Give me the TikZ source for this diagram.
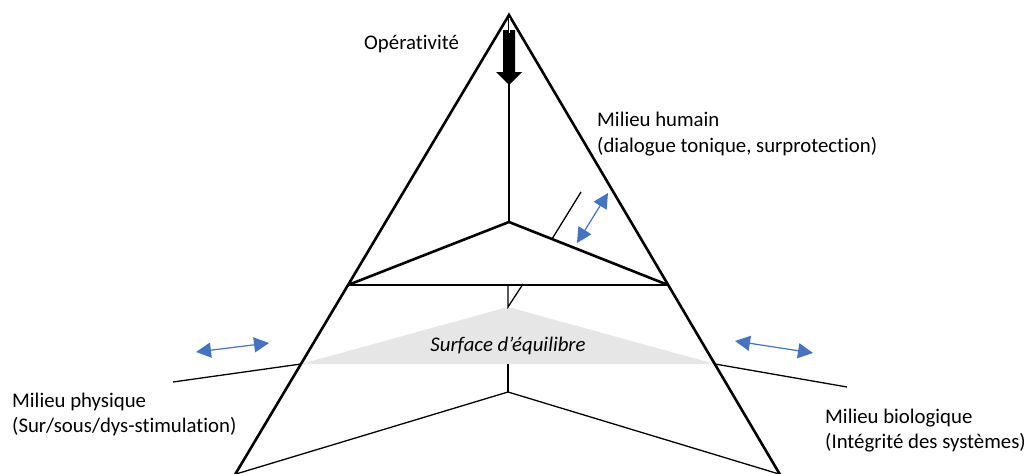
\documentclass[tikz,border=0pt]{standalone}
\usepackage{fontspec}
\setmainfont{Carlito}[Ligatures={NoCommon,NoRequired,NoContextual}]
\usetikzlibrary{arrows.meta}
\definecolor{arrblue}{HTML}{4472C4}
\definecolor{surfgrey}{HTML}{E6E6E6}
\tikzset{
  thickline/.style={line width=2.6pt, line join=miter},
  barline/.style={line width=2.2pt},
  thinline/.style={line width=1.3pt},
  bluearrow/.style={draw=arrblue, line width=1.2pt, {Triangle[length=15pt,width=15pt]}-{Triangle[length=15pt,width=15pt]}},
  lbl/.style={font=\fontsize{20.8}{24}\selectfont, anchor=base west, inner sep=0pt},
}
\begin{document}
\begin{tikzpicture}[x=1pt,y=-1pt]
\useasboundingbox (0,0) rectangle (1034,474);
% coordinates
\coordinate (A) at (509,15);
\coordinate (BL) at (233,478);
\coordinate (BR) at (782,478);
\coordinate (T) at (509,222);
\coordinate (L) at (348,285);
\coordinate (R) at (668,285);
\coordinate (S0) at (508,307);
\coordinate (SL) at (301,364);
\coordinate (SR) at (715,364);
\coordinate (SM) at (508,364);
\coordinate (C) at (508,392);
\coordinate (CL) at (236,474);
\coordinate (CR) at (779,474);
% grey surface
\fill[surfgrey] (S0) -- (SL) -- (SR) -- cycle;
\node[lbl, anchor=base, font=\fontsize{20.8}{24}\selectfont\itshape] (surf) at (508,351) {Surface d’équilibre};
% outer triangle
\draw[thickline] (BL) -- (A) -- (BR);
% central vertical line
\draw[thinline] (A) -- (T);
% top arrow
\fill (503,30) -- (515,30) -- (515,72) -- (522,72) -- (509,85) -- (496,72) -- (503,72) -- cycle;
\draw[white, line width=0.8pt] (509,18) -- (509,33);
% inner triangle and bar
\draw[thickline] (L) -- (T) -- (R);
\draw[barline] (L) -- (R);
% small line on inner triangle
\coordinate (P1) at (552,239);
\coordinate (P2) at (581,192);
\draw[thinline] (P1) -- (P2);
% small lines below bar
\coordinate (Q1) at (508,285);
\coordinate (Q2) at (523,284);
\draw[thinline] (Q1) -- (S0) -- (Q2);
% lower lines
\draw[thinline] (SM) -- (C);
\draw[thinline] (CL) -- (C) -- (CR);
% side lines
\coordinate (EL) at (173,382);
\coordinate (ER) at (847,387);
\draw[thinline] (EL) -- (SL);
\draw[thinline] (SR) -- (ER);
% blue arrows
\coordinate (b1) at (577,243); \coordinate (b2) at (608,193);
\coordinate (b3) at (196,352); \coordinate (b4) at (269,343);
\coordinate (b5) at (735,341); \coordinate (b6) at (813,353);
\draw[bluearrow] (b1) -- (b2);
\draw[bluearrow] (b3) -- (b4);
\draw[bluearrow] (b5) -- (b6);
% labels
\node[lbl] (op) at (364,49) {Opérativité};
\node[lbl] (mh1) at (597,126) {Milieu humain};
\node[lbl] (mh2) at (597,152) {(dialogue tonique, surprotection)};
\node[lbl] (mp1) at (12,407) {Milieu physique};
\node[lbl] (mp2) at (12,432) {(Sur/sous/dys-stimulation)};
\node[lbl] (mb1) at (825,423) {Milieu biologique};
\node[lbl] (mb2) at (825,448) {(Intégrité des systèmes)};
\end{tikzpicture}
\end{document}
